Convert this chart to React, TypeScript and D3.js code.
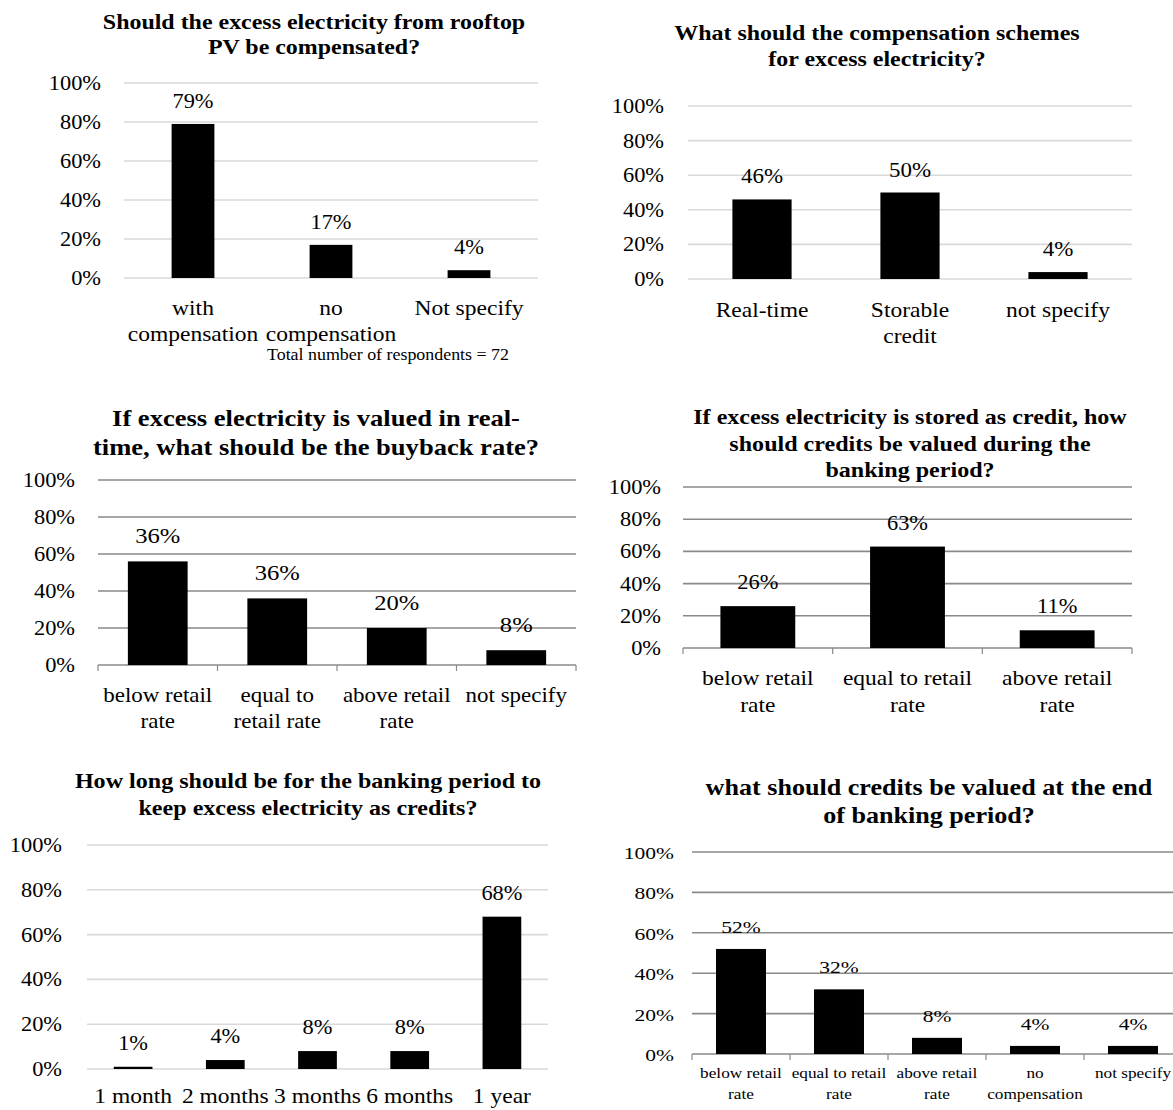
import React from "react";
import * as d3 from "d3";

// ---------- DATA ----------
const yTicks = [0, 20, 40, 60, 80, 100];

const q1Title = ["Should the excess electricity from rooftop", "PV be compensated?"];
const q1Categories = ["with\ncompensation", "no\ncompensation", "Not specify"];
const q1Values = [79, 17, 4];
const q1Labels = ["79%", "17%", "4%"];
const q1Note = "Total number of respondents = 72";

const q2Title = ["What should the compensation schemes", "for excess electricity?"];
const q2Categories = ["Real-time", "Storable\ncredit", "not specify"];
const q2Values = [46, 50, 4];
const q2Labels = ["46%", "50%", "4%"];

const q3Title = ["If excess electricity is valued in real-", "time, what should be the buyback rate?"];
const q3Categories = ["below retail\nrate", "equal to\nretail rate", "above retail\nrate", "not specify"];
const q3Values = [56, 36, 20, 8];
const q3Labels = ["36%", "36%", "20%", "8%"];

const q4Title = ["If excess electricity is stored as credit, how", "should credits be valued during the", "banking period?"];
const q4Categories = ["below retail\nrate", "equal to retail\nrate", "above retail\nrate"];
const q4Values = [26, 63, 11];
const q4Labels = ["26%", "63%", "11%"];

const q5Title = ["How long should be for the banking period to", "keep excess electricity as credits?"];
const q5Categories = ["1 month", "2 months", "3 months", "6 months", "1 year"];
const q5Values = [1, 4, 8, 8, 68];
const q5Labels = ["1%", "4%", "8%", "8%", "68%"];

const q6Title = ["what should credits be valued at the end", "of banking period?"];
const q6Categories = ["below retail\nrate", "equal to retail\nrate", "above retail\nrate", "no\ncompensation", "not specify"];
const q6Values = [52, 32, 8, 4, 4];
const q6Labels = ["52%", "32%", "8%", "4%", "4%"];

// ---------- LAYOUT ----------
const FONT = "Liberation Serif";

type Layout = {
  x0: number; x1: number; y0: number; y100: number; pad: number;
  dark: boolean; sx: number; titleSx: number;
  titleX: number; titleY: number; titleStep: number; titleSize: number;
  tickRight: number; tickSize: number;
  valueSize: number; valueGap: number;
  catSize: number; catY: number; catStep: number;
  gridEnd?: number;
};

function SText(props: { x: number; y: number; sx: number; size: number; anchor?: string; weight?: string; children: React.ReactNode }) {
  const { x, y, sx, size, anchor = "middle", weight = "normal", children } = props;
  return (
    <text
      transform={`translate(${x},${y}) scale(${sx},1)`}
      textAnchor={anchor}
      fontSize={size}
      fontWeight={weight}
      fontFamily={FONT}
      fill="#000"
    >
      {children}
    </text>
  );
}

function Panel(props: { title: string[]; categories: string[]; values: number[]; labels: string[]; L: Layout }) {
  const { title, categories, values, labels, L } = props;
  const x = d3.scaleBand<string>().domain(categories).range([L.x0, L.x1]).paddingInner(L.pad).paddingOuter(L.pad / 2);
  const y = d3.scaleLinear().domain([0, 100]).range([L.y0, L.y100]);
  const gridColor = L.dark ? "#8a8a8a" : "#d9d9d9";
  const gridEnd = L.gridEnd ?? L.x1;
  const step = x.step();
  const boundaries = d3.range(categories.length + 1).map((i) => L.x0 + i * step);
  return (
    <g>
      {title.map((t, i) => (
        <SText key={i} x={L.titleX} y={L.titleY + i * L.titleStep} sx={L.titleSx} size={L.titleSize} weight="bold">
          {t}
        </SText>
      ))}
      {yTicks.map((t) => (
        <g key={t}>
          {(t > 0 || !L.dark) && (
            <line x1={L.x0} x2={gridEnd} y1={y(t)} y2={y(t)} stroke={gridColor} strokeWidth={1.6} />
          )}
          <SText x={L.tickRight} y={y(t) + 7} sx={L.sx} size={L.tickSize} anchor="end">
            {`${t}%`}
          </SText>
        </g>
      ))}
      {L.dark && (
        <g>
          <line x1={L.x0} x2={gridEnd} y1={y(0)} y2={y(0)} stroke={gridColor} strokeWidth={1.6} />
          {boundaries.map((bx, i) => (
            <line key={i} x1={bx} x2={bx} y1={y(0)} y2={y(0) + 6} stroke={gridColor} strokeWidth={1.2} />
          ))}
        </g>
      )}
      {categories.map((c, i) => {
        const bx = x(c) as number;
        const cx = bx + x.bandwidth() / 2;
        return (
          <g key={c}>
            <rect x={bx} y={y(values[i])} width={x.bandwidth()} height={y(0) - y(values[i])} fill="#000" />
            <SText x={cx} y={y(values[i]) - L.valueGap} sx={L.sx} size={L.valueSize}>
              {labels[i]}
            </SText>
            {c.split("\n").map((line, j) => (
              <SText key={j} x={cx} y={L.catY + j * L.catStep} sx={L.sx} size={L.catSize}>
                {line}
              </SText>
            ))}
          </g>
        );
      })}
    </g>
  );
}

const L1: Layout = { x0: 124, x1: 538, y0: 278, y100: 83, pad: 0.69, dark: false, sx: 1.12, titleSx: 1.14,
  titleX: 314, titleY: 29, titleStep: 25, titleSize: 21, tickRight: 101, tickSize: 20,
  valueSize: 20, valueGap: 16, catSize: 21, catY: 315, catStep: 26 };
const L2: Layout = { x0: 688, x1: 1132, y0: 279, y100: 106, pad: 0.6, dark: false, sx: 1.12, titleSx: 1.14,
  titleX: 877, titleY: 40, titleStep: 26, titleSize: 21, tickRight: 664, tickSize: 20,
  valueSize: 20.5, valueGap: 16, catSize: 21, catY: 317, catStep: 26 };
const L3: Layout = { x0: 98, x1: 576, y0: 665, y100: 480, pad: 0.5, dark: true, sx: 1.12, titleSx: 1.13,
  titleX: 316, titleY: 426, titleStep: 29, titleSize: 23.5, tickRight: 75, tickSize: 20,
  valueSize: 22, valueGap: 18, catSize: 20.5, catY: 702, catStep: 26 };
const L4: Layout = { x0: 683, x1: 1132, y0: 648, y100: 487, pad: 0.5, dark: true, sx: 1.12, titleSx: 1.12,
  titleX: 910, titleY: 424, titleStep: 26.5, titleSize: 21.5, tickRight: 661, tickSize: 20,
  valueSize: 20, valueGap: 17, catSize: 21, catY: 685, catStep: 27 };
const L5: Layout = { x0: 87, x1: 548, y0: 1069, y100: 845, pad: 0.58, dark: false, sx: 1.12, titleSx: 1.12,
  titleX: 308, titleY: 788, titleStep: 27, titleSize: 21.5, tickRight: 62, tickSize: 20,
  valueSize: 20, valueGap: 17, catSize: 21, catY: 1103, catStep: 26 };
const L6: Layout = { x0: 692, x1: 1182, y0: 1054, y100: 852, pad: 0.49, dark: true, sx: 1.23, titleSx: 1.16,
  titleX: 929, titleY: 795, titleStep: 28, titleSize: 22.5, tickRight: 674, tickSize: 17.5,
  valueSize: 17.5, valueGap: 16, catSize: 14, catY: 1078, catStep: 21, gridEnd: 1173 };

export default function App() {
  return (
    <svg
      width={1173}
      height={1110}
      style={{ position: "absolute", left: 0, top: 0, background: "#fff" }}
    >
      <rect x={0} y={0} width={1173} height={1110} fill="#fff" />
      <Panel title={q1Title} categories={q1Categories} values={q1Values} labels={q1Labels} L={L1} />
      <SText x={388} y={360} sx={1.12} size={16}>{q1Note}</SText>
      <Panel title={q2Title} categories={q2Categories} values={q2Values} labels={q2Labels} L={L2} />
      <Panel title={q3Title} categories={q3Categories} values={q3Values} labels={q3Labels} L={L3} />
      <Panel title={q4Title} categories={q4Categories} values={q4Values} labels={q4Labels} L={L4} />
      <Panel title={q5Title} categories={q5Categories} values={q5Values} labels={q5Labels} L={L5} />
      <Panel title={q6Title} categories={q6Categories} values={q6Values} labels={q6Labels} L={L6} />
    </svg>
  );
}
